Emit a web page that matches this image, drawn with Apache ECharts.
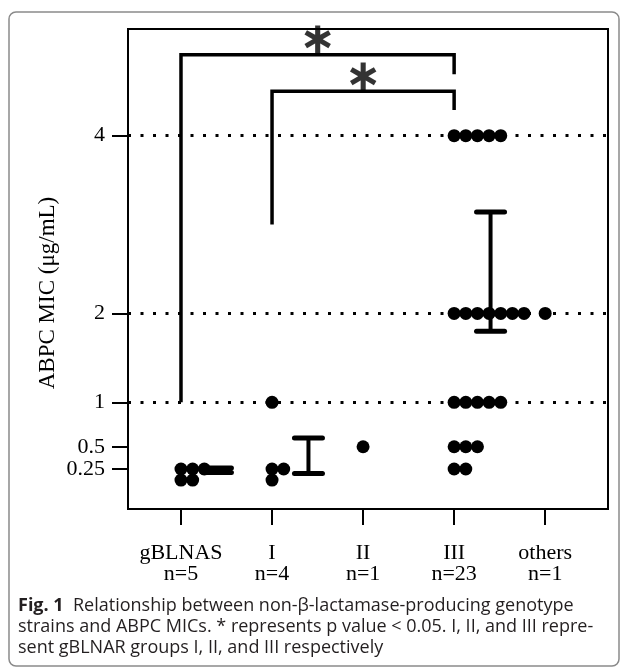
<!DOCTYPE html>
<html>
<head>
<meta charset="utf-8">
<script src="https://cdn.jsdelivr.net/npm/echarts@6/dist/echarts.min.js"></script>
<style>
  html, body { margin: 0; padding: 0; background: #fff; }
  #main { width: 629px; height: 672px; }
</style>
</head>
<body>
<div id="main"></div>
<script>
// groups on the x axis
var groups = ['gBLNAS', 'I', 'II', 'III', 'others'];
var groupN = [5, 4, 1, 23, 1];

// MIC values per strain (ug/mL), one array per group
var micGBLNAS = [0.25, 0.25, 0.25, 0.125, 0.125];
var micI = [1, 0.25, 0.25, 0.125];
var micII = [0.5];
var micIII = [4, 4, 4, 4, 4, 2, 2, 2, 2, 2, 2, 2, 1, 1, 1, 1, 1, 0.5, 0.5, 0.5, 0.25, 0.25];
var micOthers = [2];

// error bars (mean +/- SE): [group index, low, high]
var errBars = [
    [1, 0.21, 0.26],
    [2, 0.2, 0.6],
    [4, 1.8, 3.14]
];

// y ticks and dotted reference levels
var yTicks = [0.25, 0.5, 1, 2, 4];
var refLevels = [1, 2, 4];

// significance brackets: [from group, to group, from-side bottom, top, to-side bottom]
var brackets = [
    [1, 4, 1, 4.91, 4.69],
    [2, 4, 3, 4.5, 4.29]
];

var dotStep = 0.128;   // horizontal step between stacked dots (x units)
var barOffset = 0.4;   // error bar offset to the right of group

function dotData(vals, g) {
    var seen = {};
    return vals.map(function (v) {
        var k = seen[v] || 0;
        seen[v] = k + 1;
        return [g + k * dotStep, v];
    });
}

var dots = []
    .concat(dotData(micGBLNAS, 1))
    .concat(dotData(micI, 2))
    .concat(dotData(micII, 3))
    .concat(dotData(micIII, 4))
    .concat(dotData(micOthers, 5));

var bracketSeries = brackets.map(function (b) {
    return {
        type: 'line',
        data: [[b[0], b[2]], [b[0], b[3]], [b[1], b[3]], [b[1], b[4]]],
        showSymbol: false,
        symbol: 'none',
        lineStyle: { color: '#000', width: 3.5, join: 'miter' },
        z: 4,
        silent: true
    };
});

var starData = brackets.map(function (b) {
    return [(b[0] + b[1]) / 2, b[3]];
});

var serif = 'Liberation Serif';

var myChart = echarts.init(document.getElementById('main'));

var option = {
    animation: false,
    grid: {
        left: 128, right: 21, top: 29, bottom: 163,
        show: true,
        borderColor: '#000',
        borderWidth: 2
    },
    xAxis: {
        type: 'value',
        min: 0.418,
        max: 5.69,
        splitLine: { show: false },
        axisLine: { show: true, onZero: false, lineStyle: { color: '#000', width: 2 } },
        axisTick: {
            show: true, length: 16, customValues: [1, 2, 3, 4, 5],
            lineStyle: { color: '#000', width: 2 }
        },
        axisLabel: {
            customValues: [1, 2, 3, 4, 5],
            margin: 34,
            fontFamily: serif,
            fontSize: 22,
            lineHeight: 21,
            color: '#000',
            formatter: function (v) {
                var i = Math.round(v) - 1;
                return groups[i] + '\nn=' + groupN[i];
            }
        }
    },
    yAxis: {
        type: 'value',
        min: -0.2,
        max: 5.2,
        splitLine: { show: false },
        axisLine: { show: true, onZero: false, lineStyle: { color: '#000', width: 2 } },
        axisTick: {
            show: true, length: 16, customValues: yTicks,
            lineStyle: { color: '#000', width: 2 }
        },
        axisLabel: {
            customValues: yTicks,
            margin: 23,
            fontFamily: serif,
            fontSize: 22,
            color: '#000',
            formatter: function (v) { return String(v); }
        }
    },
    graphic: [
        {
            type: 'rect',
            shape: { x: 9, y: 12, width: 610, height: 654, r: 7 },
            style: { fill: 'none', stroke: '#8a8a8a', lineWidth: 1.5 },
            silent: true
        },
        {
            type: 'text',
            x: 48, y: 293,
            rotation: Math.PI / 2,
            style: {
                text: 'ABPC MIC (μg/mL)',
                font: '23px "Liberation Serif"',
                fill: '#000',
                align: 'center',
                verticalAlign: 'middle'
            }
        },
        {
            type: 'text',
            x: 18, y: 595,
            style: {
                text: '{b|Fig. 1}  Relationship between non-β-lactamase-producing genotype\n' +
                      'strains and ABPC MICs. * represents p value < 0.05. I, II, and III repre-\n' +
                      'sent gBLNAR groups I, II, and III respectively',
                font: '18px "Open Sans"',
                fill: '#231f20',
                lineHeight: 21,
                rich: {
                    b: { font: 'bold 18px "Open Sans"', fill: '#231f20', lineHeight: 21 }
                }
            }
        }
    ],
    series: [
        {
            type: 'line',
            data: [],
            z: 1,
            markLine: {
                silent: true,
                symbol: 'none',
                label: { show: false },
                lineStyle: { color: '#000', width: 3, type: [3, 9.5] },
                data: refLevels.map(function (v) { return { yAxis: v }; })
            }
        },
        {
            type: 'scatter',
            data: dots,
            symbol: 'circle',
            symbolSize: 13,
            itemStyle: { color: '#000', opacity: 1 },
            z: 3,
            silent: true
        },
        {
            type: 'custom',
            data: errBars.map(function (e) { return [e[0] + barOffset, e[1], e[2]]; }),
            z: 5,
            silent: true,
            renderItem: function (params, api) {
                var lo = api.coord([api.value(0), api.value(1)]);
                var hi = api.coord([api.value(0), api.value(2)]);
                var hw = 14;
                return {
                    type: 'group',
                    children: [
                        { type: 'line', shape: { x1: lo[0], y1: lo[1], x2: hi[0], y2: hi[1] },
                          style: { stroke: '#000', lineWidth: 4 } },
                        { type: 'line', shape: { x1: lo[0] - hw, y1: lo[1], x2: lo[0] + hw, y2: lo[1] },
                          style: { stroke: '#000', lineWidth: 5, lineCap: 'round' } },
                        { type: 'line', shape: { x1: hi[0] - hw, y1: hi[1], x2: hi[0] + hw, y2: hi[1] },
                          style: { stroke: '#000', lineWidth: 5, lineCap: 'round' } }
                    ]
                };
            }
        },
        {
            type: 'scatter',
            data: starData,
            symbolSize: 0,
            z: 6,
            silent: true,
            label: {
                show: true,
                position: 'top',
                distance: -9,
                formatter: '∗',
                fontFamily: 'DejaVu Sans',
                fontWeight: 'bold',
                fontSize: 44,
                color: '#000'
            }
        }
    ].concat(bracketSeries)
};

if (option && typeof option === "object") {
    myChart.setOption(option, true);
}
</script>
</body>
</html>
